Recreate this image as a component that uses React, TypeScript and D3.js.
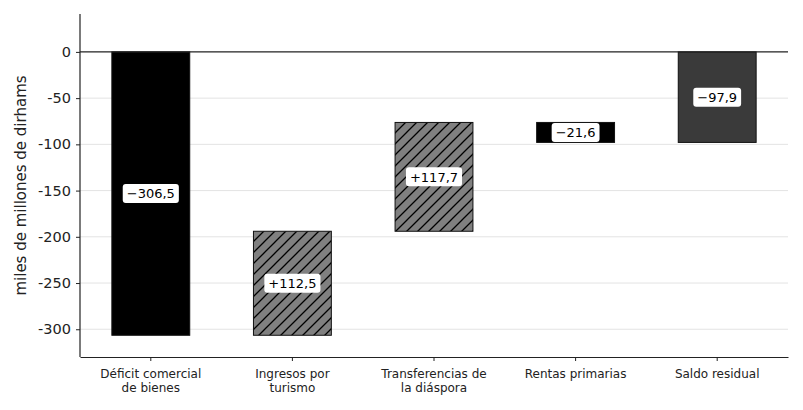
import * as d3 from "d3";
import { useRef, useEffect } from "react";

const categories: string[][] = [
  ["Déficit comercial", "de bienes"],
  ["Ingresos por", "turismo"],
  ["Transferencias de", "la diáspora"],
  ["Rentas primarias"],
  ["Saldo residual"],
];
const deltas: number[] = [-306.5, 112.5, 117.7, -21.6];
const residual = -97.9;
const yTicks: number[] = [0, -50, -100, -150, -200, -250, -300];

function fmt(v: number): string {
  const s = Math.abs(v).toFixed(1).replace(".", ",");
  return (v < 0 ? "\u2212" : "+") + s;
}

export default function App() {
  const width = 803;
  const height = 410;
  const marginLeft = 80;
  const marginRight = 15;
  const marginTop = 14;
  const marginBottom = 53;

  const ref = useRef<SVGSVGElement>(null);
  useEffect((): void => {
    if (!ref.current) return;
    const svg = d3.select(ref.current);
    svg.selectAll("*").remove();

    // build waterfall segments
    const bars: { lo: number; hi: number; v: number; kind: string }[] = [];
    let run = 0;
    deltas.forEach((d) => {
      const next = run + d;
      bars.push({ lo: Math.min(run, next), hi: Math.max(run, next), v: d, kind: d < 0 ? "neg" : "pos" });
      run = next;
    });
    bars.push({ lo: Math.min(0, residual), hi: Math.max(0, residual), v: residual, kind: "total" });

    const x = d3
      .scaleBand<number>()
      .domain(d3.range(categories.length))
      .range([marginLeft, width - marginRight])
      .padding(0);
    const y = d3
      .scaleLinear()
      .domain([-330, 41])
      .range([height - marginBottom, marginTop]);

    const barW = x.bandwidth() * 0.55;
    const cx = (i: number) => (x(i) as number) + x.bandwidth() / 2;

    const defs = svg.append("defs");
    const P = 11;
    const pat = defs
      .append("pattern")
      .attr("id", "hatch")
      .attr("patternUnits", "userSpaceOnUse")
      .attr("width", P)
      .attr("height", P);
    pat.append("rect").attr("width", P).attr("height", P).attr("fill", "#808080");
    pat
      .append("path")
      .attr("d", `M0,${P} L${P},0 M-2,2 L2,-2 M${P - 2},${P + 2} L${P + 2},${P - 2}`)
      .attr("stroke", "#000")
      .attr("stroke-width", 1.3);

    // grid
    svg
      .append("g")
      .selectAll("line")
      .data(yTicks.filter((t) => t !== 0))
      .join("line")
      .attr("x1", marginLeft)
      .attr("x2", width - marginRight)
      .attr("y1", (d) => y(d))
      .attr("y2", (d) => y(d))
      .attr("stroke", "#e3e3e3")
      .attr("stroke-width", 1);

    const fills: Record<string, string> = { neg: "#000000", pos: "url(#hatch)", total: "#3a3a3a" };

    svg
      .append("g")
      .selectAll("rect")
      .data(bars)
      .join("rect")
      .attr("x", (_, i) => cx(i) - barW / 2)
      .attr("width", barW)
      .attr("y", (d) => y(d.hi))
      .attr("height", (d) => y(d.lo) - y(d.hi))
      .attr("fill", (d) => fills[d.kind])
      .attr("stroke", "#111")
      .attr("stroke-width", 1);

    // zero line
    svg
      .append("line")
      .attr("x1", marginLeft)
      .attr("x2", width - marginRight)
      .attr("y1", y(0))
      .attr("y2", y(0))
      .attr("stroke", "#222")
      .attr("stroke-width", 1.2);

    // value labels
    const lab = svg
      .append("g")
      .attr("font-family", "DejaVu Sans")
      .attr("font-size", 13)
      .selectAll("g")
      .data(bars)
      .join("g")
      .attr("transform", (d, i) => `translate(${cx(i)},${y((d.lo + d.hi) / 2)})`);
    lab.each(function (d) {
      const g = d3.select(this);
      const rect = g.append("rect").attr("fill", "#fff").attr("rx", 3);
      const t = g
        .append("text")
        .attr("text-anchor", "middle")
        .attr("dy", "0.36em")
        .attr("fill", "#000")
        .text(fmt(d.v));
      const w = (t.node() as SVGTextElement).getComputedTextLength();
      rect.attr("x", -w / 2 - 4).attr("y", -9.5).attr("width", w + 8).attr("height", 19);
    });

    // axes
    const yAxis = svg
      .append("g")
      .attr("transform", `translate(${marginLeft},0)`)
      .call(
        d3
          .axisLeft(y)
          .tickValues(yTicks)
          .tickSize(4)
          .tickPadding(5)
          .tickFormat((d) => String(d)),
      );
    const xAxis = svg
      .append("g")
      .attr("transform", `translate(0,${height - marginBottom})`)
      .call(d3.axisBottom(x).tickSize(4).tickSizeOuter(0).tickPadding(5).tickFormat(() => ""));
    yAxis.select(".domain").attr("d", `M0,${marginTop}V${height - marginBottom}`);
    [yAxis, xAxis].forEach((a) => {
      a.select(".domain").attr("stroke", "#222").attr("stroke-width", 1.2);
      a.selectAll(".tick line").attr("stroke", "#222");
    });
    yAxis
      .selectAll(".tick text")
      .attr("font-family", "DejaVu Sans")
      .attr("font-size", 14.5)
      .attr("fill", "#222");

    xAxis.selectAll(".tick text").remove();
    const xl = svg
      .append("g")
      .attr("font-family", "DejaVu Sans")
      .attr("font-size", 12)
      .attr("fill", "#222")
      .attr("text-anchor", "middle")
      .selectAll("text")
      .data(categories)
      .join("text")
      .attr("x", (_, i) => cx(i))
      .attr("y", height - marginBottom + 21);
    xl.each(function (lines) {
      d3.select(this)
        .selectAll("tspan")
        .data(lines)
        .join("tspan")
        .attr("x", d3.select(this).attr("x"))
        .attr("dy", (_, j) => (j === 0 ? 0 : 14))
        .text((l) => l);
    });

    svg
      .append("text")
      .attr("transform", `translate(21,${(marginTop + height - marginBottom) / 2}) rotate(-90)`)
      .attr("text-anchor", "middle")
      .attr("dy", "0.35em")
      .attr("font-family", "DejaVu Sans")
      .attr("font-size", 15)
      .attr("fill", "#222")
      .text("miles de millones de dirhams");
  }, []);

  return (
    <svg
      ref={ref}
      width={width}
      height={height}
      style={{ position: "absolute", left: 0, top: 0, background: "#fff" }}
    />
  );
}
